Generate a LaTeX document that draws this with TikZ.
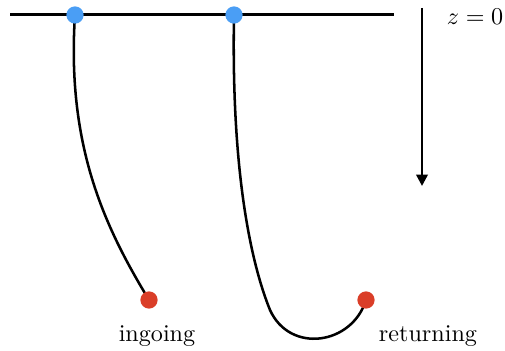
\documentclass[tikz,border=0pt]{standalone}
\usetikzlibrary{arrows.meta,backgrounds}

\begin{document}
\begin{tikzpicture}[
  x=0.435pt, y=-0.435pt,
  surface/.style={line width=1.3pt},
  ray/.style={line width=1.1pt},
  depth/.style={-{Triangle[length=5pt,width=5pt]}, line width=1.1pt},
  start/.style={circle, fill={rgb,255:red,74;green,158;blue,245}, minimum size=7.5pt, inner sep=0pt},
  finish/.style={circle, fill={rgb,255:red,218;green,62;blue,40}, minimum size=7.5pt, inner sep=0pt},
  label/.style={font=\normalsize, scale=1.05}
]
\useasboundingbox (0,0) rectangle (505,351);

% ---------- surface z = 0 ----------
\coordinate (Sleft)  at (10,15);
\coordinate (Sright) at (394,15);
\draw[surface] (Sleft) -- (Sright);

% ---------- depth arrow ----------
\coordinate (Dtop) at (422,8);
\coordinate (Dbot) at (422,186);
\draw[depth] (Dtop) -- (Dbot);
\node[label, anchor=east, inner xsep=0.5pt] (zlabel) at (505,17) {$z=0$};

% ---------- end points ----------
\node[start]  (Ain)  at (75,15)   {};
\node[finish] (Aout) at (149,300) {};
\node[start]  (Bin)  at (234,15)  {};
\node[finish] (Bout) at (366,300) {};

% ---------- rays ----------
\begin{pgfonlayer}{background}
\draw[ray] (Ain.center) .. controls (66,150) and (108,232) .. (Aout.center);
\draw[ray] (Bin.center) .. controls (231,180) and (253,268) .. (270,310)
                        .. controls (290,354) and (352,345) .. (Bout.center);
\end{pgfonlayer}

% ---------- labels ----------
\node[label] (Lin)  at (157,336) {ingoing};
\node[label] (Lret) at (428,336) {returning};

\end{tikzpicture}
\end{document}
